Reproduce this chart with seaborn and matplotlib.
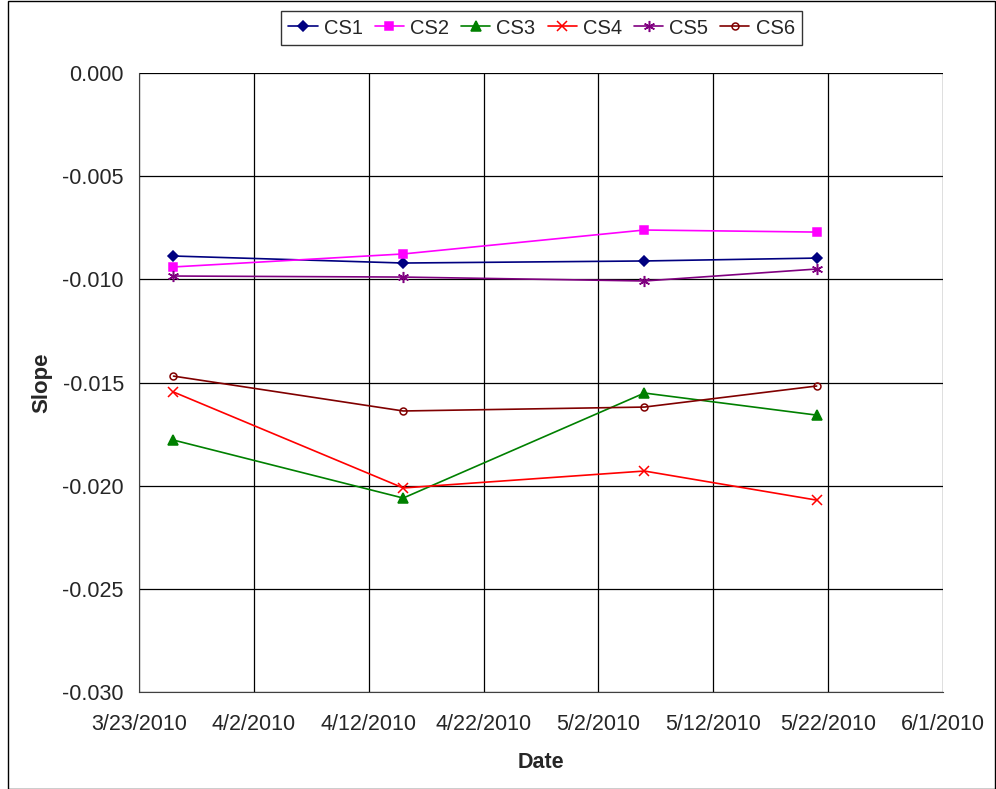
import pandas as pd
import numpy as np
import matplotlib
matplotlib.use('Agg')
import matplotlib.pyplot as plt
import matplotlib.dates as mdates
import seaborn as sns

sns.set_style('white')
plt.rcParams['font.family'] = ['Liberation Sans', 'DejaVu Sans']

# %% Data
dates = ['2010-03-26', '2010-04-15', '2010-05-06', '2010-05-21']
cs1 = [-0.00887, -0.00921, -0.00911, -0.00897]
cs2 = [-0.00940, -0.00877, -0.00761, -0.00771]
cs3 = [-0.01779, -0.02060, -0.01551, -0.01658]
cs4 = [-0.01546, -0.02011, -0.01929, -0.02070]
cs5 = [-0.00984, -0.00989, -0.01008, -0.00950]
cs6 = [-0.01469, -0.01638, -0.01619, -0.01517]
x_ticks = ['2010-03-23', '2010-04-02', '2010-04-12', '2010-04-22',
           '2010-05-02', '2010-05-12', '2010-05-22', '2010-06-01']

series = {'CS1': cs1, 'CS2': cs2, 'CS3': cs3, 'CS4': cs4, 'CS5': cs5, 'CS6': cs6}
df = pd.concat([pd.DataFrame({'Date': pd.to_datetime(dates), 'Slope': v, 'Series': k})
                for k, v in series.items()], ignore_index=True)

colors = {'CS1': '#000080', 'CS2': '#FF00FF', 'CS3': '#008000',
          'CS4': '#FF0000', 'CS5': '#800080', 'CS6': '#800000'}
markers = {'CS1': 'D', 'CS2': 's', 'CS3': '^', 'CS4': 'x', 'CS5': (6, 2, 0), 'CS6': 'o'}
msizes = {'CS1': 5, 'CS2': 6, 'CS3': 7, 'CS4': 7, 'CS5': 8, 'CS6': 5}

# %% Plot
fig = plt.figure(figsize=(9.96, 7.89), dpi=100)
ax = fig.add_axes([0.1396, 0.1229, 0.8072, 0.7846])

for name in series:
    sub = df[df['Series'] == name]
    mfc = 'none' if name == 'CS6' else colors[name]
    sns.lineplot(data=sub, x='Date', y='Slope', ax=ax, color=colors[name], lw=1.2,
                 marker=markers[name], markersize=msizes[name], markerfacecolor=mfc,
                 markeredgecolor=colors[name], markeredgewidth=1.1, label=name)

ticks = pd.to_datetime(x_ticks)
ax.set_xlim(ticks[0], ticks[-1])
ax.set_xticks(ticks)
ax.xaxis.set_major_formatter(mdates.DateFormatter('%-m/%-d/%Y'))
ax.set_ylim(-0.030, 0.0)
ax.set_yticks(np.arange(-0.030, 0.0001, 0.005))
ax.yaxis.set_major_formatter(matplotlib.ticker.FormatStrFormatter('%.3f'))
ax.grid(True, color='black', lw=0.9)
for s in ax.spines.values():
    s.set_color('#404040')
ax.spines['top'].set_visible(False)
ax.spines['right'].set_visible(False)
ax.tick_params(axis='both', direction='out', length=5, width=0.9, color='#404040',
               labelsize=15.5, pad=6)
ax.tick_params(axis='x', pad=11)
ax.set_xlabel('Date', fontsize=15.5, fontweight='bold', labelpad=12)
ax.set_ylabel('Slope', fontsize=16, fontweight='bold', labelpad=7)

leg = ax.legend(loc='center', bbox_to_anchor=(0.5437, 0.9645), bbox_transform=fig.transFigure,
                ncol=6, fontsize=14.5, frameon=True, fancybox=False, edgecolor='black',
                handlelength=1.45, handletextpad=0.3, columnspacing=0.6, borderpad=0.35)
leg.get_frame().set_linewidth(1.0)

fig.patches.append(plt.Rectangle((0.008, 0.0), 0.991, 0.999, transform=fig.transFigure,
                                 fill=False, edgecolor='black', lw=1.0))

fig.savefig('out.png', dpi=100)
